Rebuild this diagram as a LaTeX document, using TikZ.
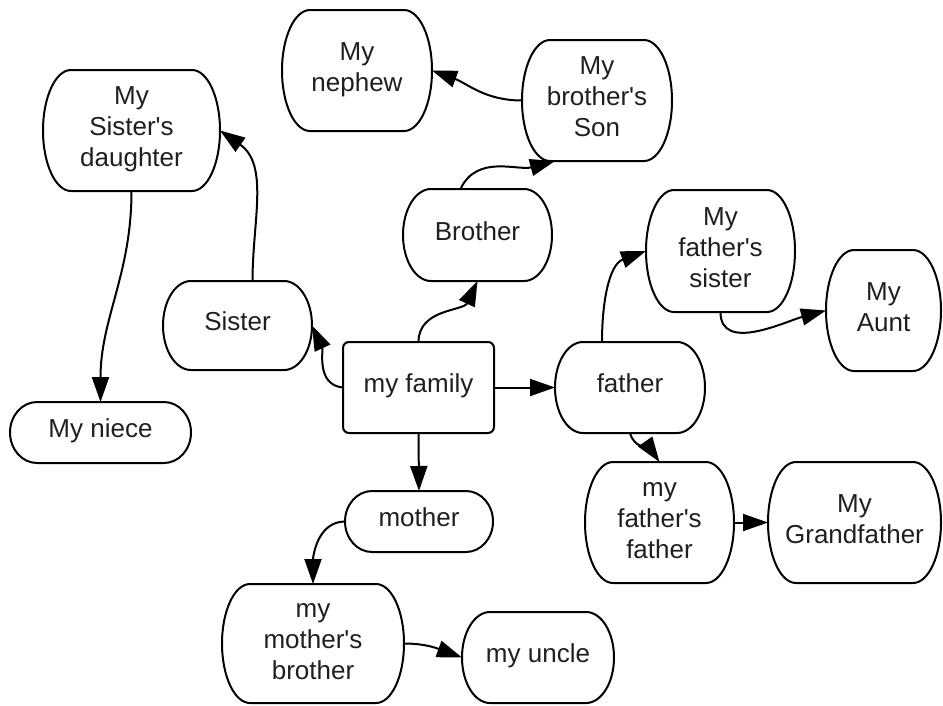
\documentclass[tikz,border=0pt]{standalone}
\usepackage{fontspec}
\setmainfont{Liberation Sans}[Ligatures=TeXOff]
\usetikzlibrary{arrows.meta,calc}

% centred label lines, set a little above the middle of the box
\newcommand\lbl[1]{\raisebox{1pt}[\height][\depth]{\begin{tabular}{@{}c@{}}#1\end{tabular}}}

% Outline with elliptical corners: #1 node name, #2 horizontal corner radius (pt)
\newcommand\capsuleoutline[2]{%
  \draw[outline] ([xshift=#2pt]#1.north west) -- ([xshift=-#2pt]#1.north east)
    .. controls ([xshift=-0.448*#2pt]#1.north east) and ($(#1.east)!0.552!(#1.north east)$) .. (#1.east)
    .. controls ($(#1.east)!0.552!(#1.south east)$) and ([xshift=-0.448*#2pt]#1.south east) .. ([xshift=-#2pt]#1.south east)
    -- ([xshift=#2pt]#1.south west)
    .. controls ([xshift=0.448*#2pt]#1.south west) and ($(#1.west)!0.552!(#1.south west)$) .. (#1.west)
    .. controls ($(#1.west)!0.552!(#1.north west)$) and ([xshift=0.448*#2pt]#1.north west) .. cycle;}

\tikzset{
  box/.style={draw=none, inner sep=0pt, outer sep=0pt,
    text=black!88, font=\fontsize{26}{31}\selectfont},
  outline/.style={line width=2pt, black},
  link/.style={line width=2pt, black, -{Triangle[length=25pt,width=17pt]}},
}

\begin{document}
\begin{tikzpicture}[x=1pt,y=-1pt]
\useasboundingbox (0,0) rectangle (943,705);

% central node
\node[box, minimum width=151pt, minimum height=91pt] (family) at (418.5,387.5) {\lbl{my family}};
\draw[outline, rounded corners=6pt] (family.north west) rectangle (family.south east);

% relatives
\node[box, minimum width=150pt, minimum height=121pt] (nephew) at (357,70.5) {\lbl{My\\nephew}};
\node[box, minimum width=150pt, minimum height=121pt] (bson) at (597,100.5) {\lbl{My\\brother's\\Son}};
\node[box, minimum width=177pt, minimum height=121pt] (sdaughter) at (131.5,130.5) {\lbl{My\\Sister's\\daughter}};
\node[box, minimum width=149pt, minimum height=92pt] (brother) at (477.5,235) {\lbl{Brother}};
\node[box, minimum width=149pt, minimum height=122pt] (fsister) at (720.5,251) {\lbl{My\\father's\\sister}};
\node[box, minimum width=115pt, minimum height=121pt] (aunt) at (883.5,310.5) {\lbl{My\\Aunt}};
\node[box, minimum width=149pt, minimum height=89pt] (sister) at (237.5,325.5) {\lbl{Sister}};
\node[box, minimum width=150pt, minimum height=91pt] (father) at (630,387.5) {\lbl{father}};
\node[box, minimum width=181pt, minimum height=61pt] (niece) at (100.5,432.5) {\lbl{My niece}};
\node[box, minimum width=148pt, minimum height=61pt] (mother) at (419,521.5) {\lbl{mother}};
\node[box, minimum width=149pt, minimum height=121pt] (ffather) at (659.5,522.5) {\lbl{my\\father's\\father}};
\node[box, minimum width=173pt, minimum height=121pt] (gfather) at (854.5,522.5) {\lbl{My\\Grandfather}};
\node[box, minimum width=182pt, minimum height=119pt] (mbrother) at (313,643.5) {\lbl{my\\mother's\\brother}};
\node[box, minimum width=152pt, minimum height=91pt] (uncle) at (538,657.5) {\lbl{my uncle}};

\capsuleoutline{nephew}{28}
\capsuleoutline{bson}{28}
\capsuleoutline{sdaughter}{28}
\capsuleoutline{brother}{28}
\capsuleoutline{fsister}{28}
\capsuleoutline{aunt}{28}
\capsuleoutline{sister}{28}
\capsuleoutline{father}{28}
\capsuleoutline{niece}{27}
\capsuleoutline{mother}{27}
\capsuleoutline{ffather}{28}
\capsuleoutline{gfather}{28}
\capsuleoutline{mbrother}{28}
\capsuleoutline{uncle}{28}

% connectors
\draw[link] (family.north) to[out=90, in=-115] (brother.south);
\draw[link] (family.west) to[out=175, in=-65] (sister.east);
\draw[link] (family.east) -- (father.west);
\draw[link] (family.south) -- (mother.north);
\draw[link] ([xshift=-17pt]brother.north) to[out=65, in=-165] ([xshift=-42pt]bson.south);
\draw[link] (bson.west) to[out=180, in=-20] (nephew.east);
\draw[link] ([xshift=15pt]sister.north) to[out=90, in=-35] (sdaughter.east);
\draw[link] (sdaughter.south) to[out=-90, in=90] (niece.north);
\draw[link] ([xshift=-28pt]father.north) to[out=90, in=-160] (fsister.west);
\draw[link] (fsister.south) to[out=-90, in=-165] (aunt.west);
\draw[link] (father.south) to[out=-75, in=125] (ffather.north);
\draw[link] (ffather.east) -- (gfather.west);
\draw[link] (mother.west) to[out=180, in=90] (mbrother.north);
\draw[link] (mbrother.east) to[out=0, in=160] (uncle.west);
\end{tikzpicture}
\end{document}
